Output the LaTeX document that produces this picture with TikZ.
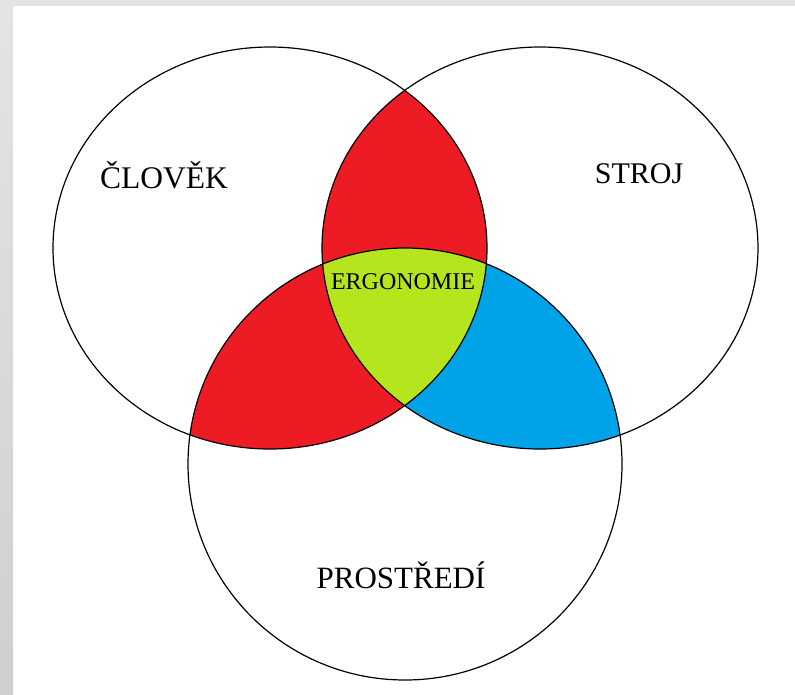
\documentclass[tikz,border=0pt]{standalone}
\usepackage{fontspec}
\setmainfont{Liberation Serif}
\definecolor{venred}{HTML}{ED1C24}
\definecolor{venblue}{HTML}{00A2E8}
\definecolor{vengreen}{HTML}{B5E61D}
\definecolor{framegray}{HTML}{E4E4E4}
\definecolor{framedark}{HTML}{CFCFCF}

\begin{document}
\begin{tikzpicture}[x=1pt,y=-1pt,
  rim/.style={black, line width=1.2pt},
  setname/.style={font=\fontsize{30}{34}\selectfont, anchor=base, inner sep=0pt}]
\useasboundingbox (0,0) rectangle (795,694);
% frame strips
\fill[framegray] (0,0) rectangle (795,6);
\shade[top color=framegray, bottom color=framedark] (0,0) rectangle (13,694);
% set centres
\coordinate (clovek) at (270,248);
\coordinate (stroj) at (540,248);
\coordinate (prostredi) at (405,464);
% pairwise overlaps
\begin{scope}
\clip (clovek) ellipse (217 and 201);
\fill[venred] (stroj) ellipse (218 and 201);
\fill[venred] (prostredi) ellipse (217 and 216);
\end{scope}
\begin{scope}
\clip (stroj) ellipse (218 and 201);
\fill[venblue] (prostredi) ellipse (217 and 216);
\end{scope}
% common part
\begin{scope}
\clip (clovek) ellipse (217 and 201);
\clip (stroj) ellipse (218 and 201);
\fill[vengreen] (prostredi) ellipse (217 and 216);
\end{scope}
% outlines
\draw[rim] (clovek) ellipse (217 and 201);
\draw[rim] (stroj) ellipse (218 and 201);
\draw[rim] (prostredi) ellipse (217 and 216);
% names
\node[setname, font=\fontsize{31.5}{36}\selectfont] (clovekname) at (164,188) {ČLOVĚK};
\node[setname] (strojname) at (639,183) {STROJ};
\node[setname, font=\fontsize{31}{36}\selectfont] (prostrediname) at (401,588) {PROSTŘEDÍ};
\node[setname, font=\fontsize{24}{28}\selectfont] (ergonomie) at (403,289) {ERGONOMIE};
\end{tikzpicture}
\end{document}
